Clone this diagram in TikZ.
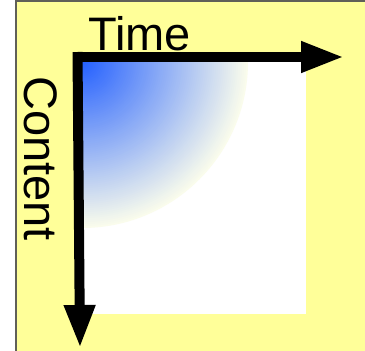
\documentclass[tikz,border=0pt]{standalone}
\usepackage{fontspec}
\setmainfont{Liberation Sans}
\usetikzlibrary{arrows.meta}

\definecolor{padyellow}{RGB}{255,255,153}
\definecolor{padframe}{RGB}{96,96,88}
\definecolor{fadeblue}{RGB}{35,95,255}
\definecolor{fadeedge}{RGB}{250,252,236}

\tikzset{
  axisarrow/.style={line width=10pt,-{Triangle[length=43pt,width=29pt]}},
  axislabel/.style={inner sep=0pt,font=\fontsize{47}{56}\selectfont}
}

\begin{document}
\begin{tikzpicture}[x=1pt,y=-1pt]
\useasboundingbox (0,0) rectangle (365,351);
% pad and frame
\fill[padyellow] (16,1) rectangle (366,352);
\draw[padframe,line width=1.2pt] (16,352) -- (16,1) -- (366,1);
% content area
\fill[white] (82,62) rectangle (306,314);
\begin{scope}
\clip (82,62) rectangle (306,314);
\foreach \r in {166,164,...,2} {
  \pgfmathsetmacro\mix{100*(1-\r/166)}
  \fill[fadeblue!\mix!fadeedge] (82,62) circle (\r);
}
\end{scope}
% axes
\coordinate (timestart) at (73,57);
\coordinate (timeend) at (344,57);
\coordinate (contentstart) at (77.5,52);
\coordinate (contentend) at (80,348);
\draw[axisarrow] (timestart) -- (timeend);
\draw[axisarrow] (contentstart) -- (contentend);
\node[axislabel,anchor=base] (timelabel) at (139.5,50) {Time};
\node[axislabel,anchor=base,rotate=-90] (contentlabel) at (24,158.5) {Content};
\end{tikzpicture}
\end{document}
